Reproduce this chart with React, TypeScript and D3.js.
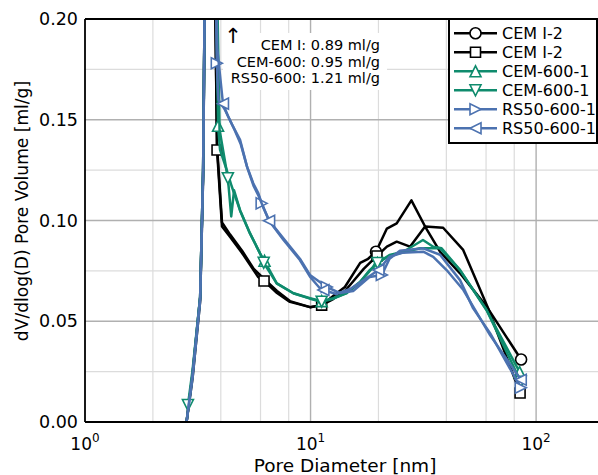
import React from 'react';
import * as d3 from 'd3';

const W = 598, H = 475;
const PL = 85, PT = 19, PB = 422, PR = 604;

const xTickValues = [1, 10, 100];
const xTickExp = ['0', '1', '2'];
const yTickValues = [0, 0.05, 0.1, 0.15, 0.2];
const yTickLabels = ['0.00', '0.05', '0.10', '0.15', '0.20'];
const yMinor = [0.025, 0.075, 0.125, 0.175];
const xMinor = [2, 4, 6, 8, 20, 40, 60, 80];

const seriesNames = ['CEM I-2', 'CEM I-2', 'CEM-600-1', 'CEM-600-1', 'RS50-600-1', 'RS50-600-1'];
const seriesColors = ['#000000', '#000000', '#0f8b6d', '#0f8b6d', '#4c72b0', '#4c72b0'];
const seriesMarkers = ['circle', 'square', 'up', 'down', 'right', 'left'];

const cemCircleD = [2.82, 3.0, 3.24, 3.34, 3.55, 3.85, 4.05, 4.4, 4.97, 5.6, 6.22, 7.1, 8.1, 9.95, 11.2, 12.6, 14.2, 16.6, 18.0, 19.5, 21.8, 24.1, 28.0, 32.2, 37.5, 46.0, 60.6, 85.8];
const cemCircleV = [0.0, 0.024, 0.062, 0.125, 0.45, 0.137, 0.099, 0.093, 0.085, 0.076, 0.071, 0.065, 0.060, 0.057, 0.058, 0.0625, 0.067, 0.079, 0.081, 0.0845, 0.096, 0.0986, 0.110, 0.097, 0.0845, 0.0738, 0.057, 0.031];
const cemCircleMarks = [19, 27];

const cemSquareD = [2.82, 3.0, 3.24, 3.34, 3.55, 3.85, 4.05, 4.4, 4.97, 5.85, 6.22, 7.1, 8.1, 9.95, 11.2, 12.6, 14.2, 15.5, 17.2, 19.7, 21.8, 24.1, 27.6, 32.2, 38.7, 47.5, 61.2, 84.9];
const cemSquareV = [0.0, 0.022, 0.060, 0.122, 0.45, 0.135, 0.097, 0.0918, 0.0839, 0.072, 0.070, 0.064, 0.0596, 0.057, 0.058, 0.061, 0.065, 0.070, 0.076, 0.0824, 0.087, 0.0895, 0.087, 0.097, 0.0964, 0.0854, 0.0566, 0.0144];
const cemSquareMarks = [5, 10, 14, 19, 27];

const c600UpD = [2.82, 3.0, 3.24, 3.34, 3.55, 3.89, 3.97, 4.25, 4.47, 4.87, 5.39, 5.97, 6.25, 7.08, 8.39, 9.95, 11.2, 12.6, 14.4, 16.6, 18.3, 19.8, 22.4, 25.8, 31.5, 35.0, 38.1, 46.0, 60.3, 84.5];
const c600UpV = [0.0, 0.024, 0.062, 0.125, 0.45, 0.147, 0.135, 0.125, 0.117, 0.105, 0.0936, 0.0837, 0.080, 0.0688, 0.0639, 0.0614, 0.060, 0.0614, 0.064, 0.0696, 0.0754, 0.0789, 0.0829, 0.0845, 0.0903, 0.087, 0.0862, 0.0754, 0.0556, 0.0248];
const c600UpMarks = [5, 12, 16, 21, 29];

const c600DownD = [2.86, 3.0, 3.24, 3.34, 3.55, 3.95, 4.3, 4.45, 4.58, 4.87, 5.39, 5.97, 6.2, 7.08, 8.39, 9.95, 11.2, 12.6, 14.4, 16.6, 18.3, 19.8, 22.4, 25.8, 30.6, 37.5, 46.0, 60.3, 85.5];
const c600DownV = [0.0084, 0.026, 0.062, 0.125, 0.45, 0.145, 0.121, 0.102, 0.115, 0.105, 0.0936, 0.0837, 0.079, 0.0688, 0.0639, 0.0612, 0.0597, 0.0612, 0.0638, 0.0694, 0.075, 0.0789, 0.0825, 0.0842, 0.0862, 0.0862, 0.0754, 0.0556, 0.020];
const c600DownMarks = [0, 6, 12, 16, 21, 28];

const rsRightD = [2.82, 3.0, 3.24, 3.34, 3.55, 3.84, 3.9, 4.17, 4.47, 4.87, 5.22, 5.57, 5.87, 6.07, 6.55, 7.59, 8.97, 9.94, 11.8, 13.5, 15.45, 18.3, 20.7, 22.4, 24.9, 31.6, 37.5, 46.0, 52.6, 62.6, 85.5];
const rsRightV = [0.0, 0.024, 0.062, 0.125, 0.45, 0.178, 0.160, 0.155, 0.148, 0.140, 0.127, 0.1185, 0.1135, 0.1085, 0.100, 0.091, 0.081, 0.073, 0.067, 0.064, 0.065, 0.072, 0.073, 0.081, 0.085, 0.0862, 0.083, 0.0704, 0.0564, 0.044, 0.017];
const rsRightMarks = [5, 13, 18, 22, 30];

const rsLeftD = [2.82, 3.0, 3.24, 3.34, 3.55, 3.86, 4.09, 4.3, 4.6, 4.9, 5.25, 5.6, 5.9, 6.2, 6.55, 7.59, 8.97, 9.94, 11.0, 11.4, 13.0, 15.0, 17.5, 20.0, 22.4, 25.5, 31.6, 35.0, 40.1, 47.6, 62.6, 85.5];
const rsLeftV = [0.0, 0.022, 0.060, 0.122, 0.45, 0.185, 0.158, 0.152, 0.145, 0.138, 0.126, 0.117, 0.112, 0.106, 0.0999, 0.0903, 0.0804, 0.0721, 0.0664, 0.0655, 0.0635, 0.066, 0.071, 0.0754, 0.082, 0.084, 0.0845, 0.082, 0.0754, 0.0655, 0.043, 0.021];
const rsLeftMarks = [6, 14, 19, 23, 31];

const seriesD = [cemCircleD, cemSquareD, c600UpD, c600DownD, rsRightD, rsLeftD];
const seriesV = [cemCircleV, cemSquareV, c600UpV, c600DownV, rsRightV, rsLeftV];
const seriesMarks = [cemCircleMarks, cemSquareMarks, c600UpMarks, c600DownMarks, rsRightMarks, rsLeftMarks];

const annotationLines = ['CEM I: 0.89 ml/g', 'CEM-600: 0.95 ml/g', 'RS50-600: 1.21 ml/g'];

const FONT = 'DejaVu Sans, sans-serif';

function markerPath(kind: string, s: number): string {
  switch (kind) {
    case 'square': return `M${-s},${-s}H${s}V${s}H${-s}Z`;
    case 'up': return `M0,${-s}L${-s},${s}L${s},${s}Z`;
    case 'down': return `M0,${s}L${-s},${-s}L${s},${-s}Z`;
    case 'right': return `M${s},0L${-s},${-s}L${-s},${s}Z`;
    case 'left': return `M${-s},0L${s},${-s}L${s},${s}Z`;
    default: return `M${s},0A${s},${s} 0 1 1 ${-s},0A${s},${s} 0 1 1 ${s},0Z`;
  }
}

function Marker({ kind, x, y, color }: { kind: string; x: number; y: number; color: string }) {
  const s = kind === 'square' ? 5 : 5.5;
  return <path d={markerPath(kind, s)} transform={`translate(${x},${y})`} fill="#fff" stroke={color} strokeWidth={1.6} />;
}

export default function App() {
  const x = d3.scaleLog().domain([1, 200]).range([PL, PR]);
  const y = d3.scaleLinear().domain([0, 0.2]).range([PB, PT]);
  const line = d3.line<[number, number]>().x(d => x(d[0])).y(d => y(d[1]));

  const legendX = 449, legendY = 19, legendW = 148, legendH = 124;

  return (
    <svg width={W} height={H} style={{ position: 'absolute', left: 0, top: 0, background: '#fff' }} fontFamily={FONT}>
      <defs>
        <clipPath id="plotclip"><rect x={PL} y={PT} width={PR - PL} height={PB - PT} /></clipPath>
      </defs>
      <rect x={0} y={0} width={W} height={H} fill="#fff" />
      {yMinor.map(v => <line key={'ym' + v} x1={PL} x2={PR} y1={y(v)} y2={y(v)} stroke="#dcdcdc" strokeWidth={1.2} />)}
      {xMinor.map(v => <line key={'xm' + v} x1={x(v)} x2={x(v)} y1={PT} y2={PB} stroke="#dcdcdc" strokeWidth={1.2} />)}
      {yTickValues.slice(1, 4).map(v => <line key={'yM' + v} x1={PL} x2={PR} y1={y(v)} y2={y(v)} stroke="#b0b0b0" strokeWidth={1.4} />)}
      {xTickValues.slice(1).map(v => <line key={'xM' + v} x1={x(v)} x2={x(v)} y1={PT} y2={PB} stroke="#b0b0b0" strokeWidth={1.4} />)}

      <rect x={223} y={33} width={164} height={57} fill="#fff" />

      <g clipPath="url(#plotclip)">
        {seriesD.map((ds, i) => {
          const pts: [number, number][] = ds.map((d, j) => [d, seriesV[i][j]]);
          return (
            <g key={i}>
              <path d={line(pts) || ''} fill="none" stroke={seriesColors[i]} strokeWidth={2.5} strokeLinejoin="round" />
              {seriesMarks[i].map(j => (
                <Marker key={j} kind={seriesMarkers[i]} x={x(ds[j])} y={y(seriesV[i][j])} color={seriesColors[i]} />
              ))}
            </g>
          );
        })}
      </g>

      <text x={233} y={43} fontSize={21} textAnchor="middle">↑</text>
      {annotationLines.map((t, i) => (
        <text key={t} x={380} y={50 + i * 16.7} fontSize={14.5} textAnchor="end">{t}</text>
      ))}

      <line x1={PL} x2={PL} y1={PT} y2={PB} stroke="#000" strokeWidth={1.8} />
      <line x1={PL} x2={PR} y1={PB} y2={PB} stroke="#000" strokeWidth={1.8} />
      <line x1={PL} x2={PR} y1={PT} y2={PT} stroke="#000" strokeWidth={1.8} />

      {yTickValues.map((v, i) => (
        <text key={'yl' + v} x={78} y={y(v) + 6} fontSize={17.5} textAnchor="end">{yTickLabels[i]}</text>
      ))}
      {xTickValues.map((v, i) => (
        <text key={'xl' + v} x={x(v)} y={450} fontSize={17} textAnchor="middle">
          10<tspan fontSize={12} dy={-8}>{xTickExp[i]}</tspan>
        </text>
      ))}

      <text x={345} y={472} fontSize={18.5} textAnchor="middle">Pore Diameter [nm]</text>
      <text transform={`translate(28,211) rotate(-90)`} fontSize={17.1} textAnchor="middle">dV/dlog(D) Pore Volume [ml/g]</text>

      <rect x={legendX} y={legendY} width={legendW} height={legendH} fill="#fff" stroke="#000" strokeWidth={2} />
      {seriesNames.map((n, i) => {
        const cy = 33.3 + i * 19;
        return (
          <g key={'lg' + i}>
            <line x1={454} x2={497} y1={cy} y2={cy} stroke={seriesColors[i]} strokeWidth={2.5} />
            <Marker kind={seriesMarkers[i]} x={475.5} y={cy} color={seriesColors[i]} />
            <text x={502} y={cy + 5.8} fontSize={16}>{n}</text>
          </g>
        );
      })}
    </svg>
  );
}
